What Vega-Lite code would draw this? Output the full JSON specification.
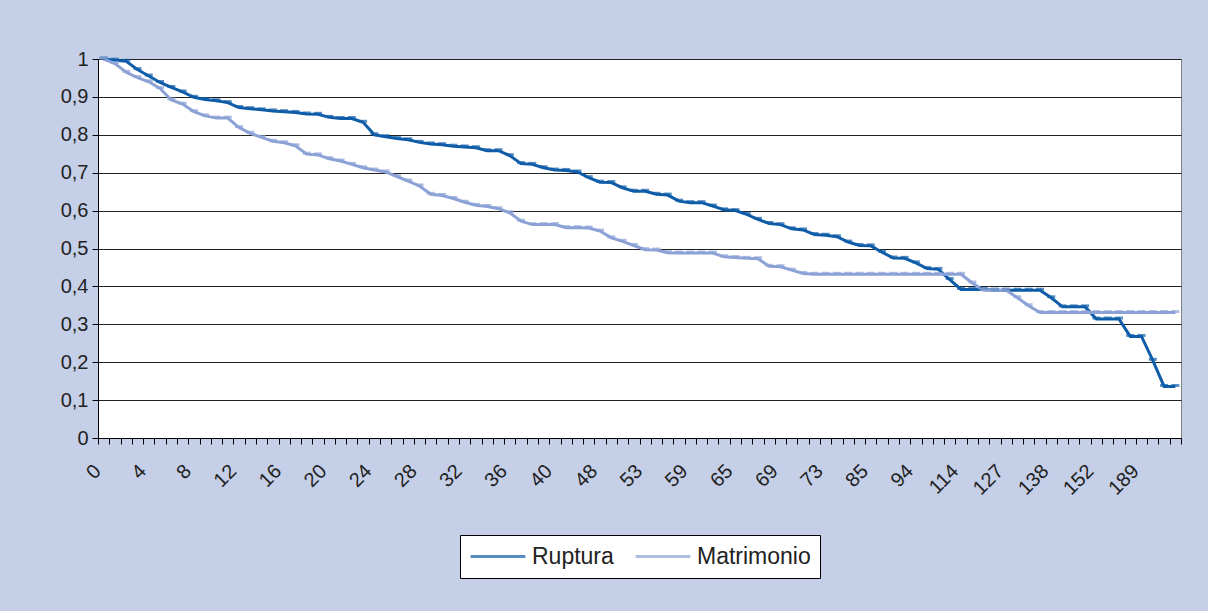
{
  "$schema": "https://vega.github.io/schema/vega-lite/v6.json",
  "width": 1083,
  "height": 379,
  "autosize": {"type": "none"},
  "padding": {"left": 98, "top": 59, "right": 27, "bottom": 173},
  "background": "#C5D0E8",
  "config": {
    "view": {"fill": "white", "stroke": "#808080", "strokeWidth": 1},
    "font": "Liberation Sans"
  },
  "data": {
    "values": [
      {"t": "0", "Ruptura": 1.0, "Matrimonio": 1.0},
      {"t": "1", "Ruptura": 0.997, "Matrimonio": 0.988},
      {"t": "2", "Ruptura": 0.994, "Matrimonio": 0.965},
      {"t": "3", "Ruptura": 0.972, "Matrimonio": 0.951},
      {"t": "4", "Ruptura": 0.955, "Matrimonio": 0.94},
      {"t": "5", "Ruptura": 0.938, "Matrimonio": 0.922},
      {"t": "6", "Ruptura": 0.925, "Matrimonio": 0.892},
      {"t": "7", "Ruptura": 0.913, "Matrimonio": 0.881},
      {"t": "8", "Ruptura": 0.899, "Matrimonio": 0.861},
      {"t": "9", "Ruptura": 0.893, "Matrimonio": 0.85},
      {"t": "10", "Ruptura": 0.89, "Matrimonio": 0.844},
      {"t": "11", "Ruptura": 0.885, "Matrimonio": 0.844},
      {"t": "12", "Ruptura": 0.872, "Matrimonio": 0.819},
      {"t": "13", "Ruptura": 0.869, "Matrimonio": 0.804},
      {"t": "14", "Ruptura": 0.866, "Matrimonio": 0.793},
      {"t": "15", "Ruptura": 0.863, "Matrimonio": 0.783},
      {"t": "16", "Ruptura": 0.861, "Matrimonio": 0.779},
      {"t": "17", "Ruptura": 0.859, "Matrimonio": 0.771},
      {"t": "18", "Ruptura": 0.855, "Matrimonio": 0.749},
      {"t": "19", "Ruptura": 0.854, "Matrimonio": 0.747},
      {"t": "20", "Ruptura": 0.846, "Matrimonio": 0.737},
      {"t": "21", "Ruptura": 0.843, "Matrimonio": 0.731},
      {"t": "22", "Ruptura": 0.843, "Matrimonio": 0.722},
      {"t": "23", "Ruptura": 0.833, "Matrimonio": 0.713},
      {"t": "24", "Ruptura": 0.8, "Matrimonio": 0.707},
      {"t": "25", "Ruptura": 0.795, "Matrimonio": 0.702},
      {"t": "26", "Ruptura": 0.79, "Matrimonio": 0.69},
      {"t": "27", "Ruptura": 0.787, "Matrimonio": 0.678},
      {"t": "28", "Ruptura": 0.78, "Matrimonio": 0.665},
      {"t": "29", "Ruptura": 0.776, "Matrimonio": 0.643},
      {"t": "30", "Ruptura": 0.774, "Matrimonio": 0.64},
      {"t": "31", "Ruptura": 0.77, "Matrimonio": 0.632},
      {"t": "32", "Ruptura": 0.768, "Matrimonio": 0.622},
      {"t": "33", "Ruptura": 0.766, "Matrimonio": 0.614},
      {"t": "34", "Ruptura": 0.758, "Matrimonio": 0.611},
      {"t": "35", "Ruptura": 0.758, "Matrimonio": 0.605},
      {"t": "36", "Ruptura": 0.745, "Matrimonio": 0.594},
      {"t": "37", "Ruptura": 0.724, "Matrimonio": 0.572},
      {"t": "38", "Ruptura": 0.722, "Matrimonio": 0.563},
      {"t": "39", "Ruptura": 0.713, "Matrimonio": 0.563},
      {"t": "40", "Ruptura": 0.707, "Matrimonio": 0.563},
      {"t": "42", "Ruptura": 0.706, "Matrimonio": 0.555},
      {"t": "44", "Ruptura": 0.702, "Matrimonio": 0.555},
      {"t": "46", "Ruptura": 0.687, "Matrimonio": 0.554},
      {"t": "48", "Ruptura": 0.675, "Matrimonio": 0.546},
      {"t": "49", "Ruptura": 0.674, "Matrimonio": 0.528},
      {"t": "50", "Ruptura": 0.66, "Matrimonio": 0.519},
      {"t": "52", "Ruptura": 0.651, "Matrimonio": 0.508},
      {"t": "53", "Ruptura": 0.651, "Matrimonio": 0.497},
      {"t": "55", "Ruptura": 0.643, "Matrimonio": 0.496},
      {"t": "56", "Ruptura": 0.641, "Matrimonio": 0.489},
      {"t": "58", "Ruptura": 0.625, "Matrimonio": 0.488},
      {"t": "59", "Ruptura": 0.621, "Matrimonio": 0.488},
      {"t": "60", "Ruptura": 0.621, "Matrimonio": 0.488},
      {"t": "62", "Ruptura": 0.612, "Matrimonio": 0.488},
      {"t": "64", "Ruptura": 0.602, "Matrimonio": 0.478},
      {"t": "65", "Ruptura": 0.6, "Matrimonio": 0.476},
      {"t": "66", "Ruptura": 0.59, "Matrimonio": 0.474},
      {"t": "67", "Ruptura": 0.577, "Matrimonio": 0.473},
      {"t": "68", "Ruptura": 0.566, "Matrimonio": 0.453},
      {"t": "69", "Ruptura": 0.563, "Matrimonio": 0.452},
      {"t": "70", "Ruptura": 0.552, "Matrimonio": 0.443},
      {"t": "71", "Ruptura": 0.549, "Matrimonio": 0.434},
      {"t": "72", "Ruptura": 0.537, "Matrimonio": 0.432},
      {"t": "73", "Ruptura": 0.535, "Matrimonio": 0.432},
      {"t": "76", "Ruptura": 0.531, "Matrimonio": 0.432},
      {"t": "79", "Ruptura": 0.517, "Matrimonio": 0.432},
      {"t": "82", "Ruptura": 0.508, "Matrimonio": 0.432},
      {"t": "85", "Ruptura": 0.507, "Matrimonio": 0.432},
      {"t": "87", "Ruptura": 0.49, "Matrimonio": 0.432},
      {"t": "89", "Ruptura": 0.475, "Matrimonio": 0.432},
      {"t": "92", "Ruptura": 0.474, "Matrimonio": 0.432},
      {"t": "94", "Ruptura": 0.462, "Matrimonio": 0.432},
      {"t": "98", "Ruptura": 0.447, "Matrimonio": 0.432},
      {"t": "103", "Ruptura": 0.445, "Matrimonio": 0.432},
      {"t": "108", "Ruptura": 0.418, "Matrimonio": 0.432},
      {"t": "114", "Ruptura": 0.392, "Matrimonio": 0.432},
      {"t": "117", "Ruptura": 0.392, "Matrimonio": 0.409},
      {"t": "120", "Ruptura": 0.392, "Matrimonio": 0.39},
      {"t": "124", "Ruptura": 0.39, "Matrimonio": 0.39},
      {"t": "127", "Ruptura": 0.39, "Matrimonio": 0.39},
      {"t": "130", "Ruptura": 0.39, "Matrimonio": 0.37},
      {"t": "133", "Ruptura": 0.39, "Matrimonio": 0.349},
      {"t": "135", "Ruptura": 0.39, "Matrimonio": 0.331},
      {"t": "138", "Ruptura": 0.37, "Matrimonio": 0.331},
      {"t": "142", "Ruptura": 0.346, "Matrimonio": 0.331},
      {"t": "145", "Ruptura": 0.346, "Matrimonio": 0.331},
      {"t": "149", "Ruptura": 0.346, "Matrimonio": 0.331},
      {"t": "152", "Ruptura": 0.314, "Matrimonio": 0.331},
      {"t": "160", "Ruptura": 0.314, "Matrimonio": 0.331},
      {"t": "168", "Ruptura": 0.314, "Matrimonio": 0.331},
      {"t": "178", "Ruptura": 0.268, "Matrimonio": 0.331},
      {"t": "189", "Ruptura": 0.268, "Matrimonio": 0.331},
      {"t": "201", "Ruptura": 0.205, "Matrimonio": 0.331},
      {"t": "216", "Ruptura": 0.136, "Matrimonio": 0.331},
      {"t": "240", "Ruptura": 0.136, "Matrimonio": 0.331}
    ]
  },
  "transform": [{"fold": ["Ruptura", "Matrimonio"], "as": ["serie", "valor"]}],
  "encoding": {
    "x": {
      "field": "t",
      "type": "ordinal",
      "sort": null,
      "scale": {"type": "band", "paddingInner": 0, "paddingOuter": 0},
      "axis": {
        "title": null,
        "labelAngle": -45,
        "labelAlign": "right",
        "labelBaseline": "alphabetic",
        "labelFontSize": 20,
        "labelColor": "#222222",
        "labelOverlap": false,
        "labelPadding": 28,
        "labelOffset": -2,
        "labelExpr": "indexof(['0','4','8','12','16','20','24','28','32','36','40','48','53','59','65','69','73','85','94','114','127','138','152','189'], datum.label) >= 0 ? datum.label : ''",
        "tickBand": "extent",
        "tickColor": "black",
        "tickSize": 6,
        "domainColor": "black",
        "grid": false
      }
    },
    "y": {
      "field": "valor",
      "type": "quantitative",
      "scale": {"domain": [0, 1]},
      "axis": {
        "title": null,
        "values": [0, 0.1, 0.2, 0.3, 0.4, 0.5, 0.6, 0.7, 0.8, 0.9, 1],
        "labelExpr": "replace(format(datum.value, '.1~f'), '.', ',')",
        "labelFontSize": 20,
        "labelColor": "#222222",
        "labelPadding": 4,
        "tickColor": "black",
        "tickSize": 6,
        "domainColor": "black",
        "grid": true,
        "gridColor": "#222222",
        "gridOpacity": 1
      }
    },
    "color": {
      "field": "serie",
      "type": "nominal",
      "scale": {"domain": ["Ruptura", "Matrimonio"], "range": ["#0F5CA8", "#8CA2D6"]},
      "legend": {
        "title": null,
        "orient": "none",
        "legendX": 362,
        "legendY": 476,
        "direction": "horizontal",
        "symbolType": "stroke",
        "symbolSize": 3000,
        "symbolStrokeWidth": 3,
        "clipHeight": 25,
        "labelFontSize": 23,
        "labelOffset": 5,
        "labelColor": "#222222",
        "fillColor": "white",
        "strokeColor": "black",
        "padding": 9,
        "columnPadding": 20
      }
    }
  },
  "layer": [
    {"mark": {"type": "line", "strokeWidth": 3}},
    {"mark": {"type": "tick", "thickness": 3, "size": 8, "yOffset": -1}}
  ]
}
